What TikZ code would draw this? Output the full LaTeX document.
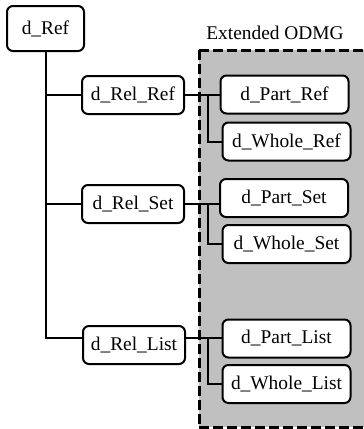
\documentclass[tikz,border=0pt]{standalone}
\usepackage{fontspec}
\setmainfont{Liberation Serif}
\usepackage{xcolor}
\definecolor{extgray}{RGB}{192,192,192}

\begin{document}
\begin{tikzpicture}[x=0.5pt,y=-0.5pt,
  box/.style={draw,line width=1pt,rounded corners=3pt,fill=white,inner sep=0pt,
    font=\fontsize{9.7}{11.6}\selectfont},
  relbox/.style={box,minimum width=51pt,minimum height=19pt},
  pwbox/.style={box,minimum width=64pt,minimum height=19pt},
  link/.style={line width=1pt},
  odmgline/.style={line width=1.5pt,dash pattern=on 5pt off 2pt}]
  \useasboundingbox (0,0) rectangle (364,429);
  % extended ODMG area
  \fill[extgray] (199,50) rectangle (370,427);
  \draw[odmgline] (199,50) -- (370,50);
  \draw[odmgline] (199,427) -- (370,427);
  \draw[odmgline] (199,50) -- (199,427);
  \node[font=\fontsize{9.7}{11.6}\selectfont] (ext) at (275,33) {Extended ODMG};
  % nodes
  \node[box,minimum width=38.5pt,minimum height=22.5pt] (Ref) at (45.5,28.5) {d\_Ref};
  \node[relbox] (RelRef) at (133,95) {d\_Rel\_Ref};
  \node[relbox] (RelSet) at (133,204) {d\_Rel\_Set};
  \node[relbox] (RelList) at (134,345) {d\_Rel\_List};
  \node[pwbox] (PartRef) at (284.5,94.5) {d\_Part\_Ref};
  \node[pwbox] (WholeRef) at (286.5,141.5) {d\_Whole\_Ref};
  \node[pwbox] (PartSet) at (284,198) {d\_Part\_Set};
  \node[pwbox] (WholeSet) at (286.5,244) {d\_Whole\_Set};
  \node[pwbox] (PartList) at (286.5,338.5) {d\_Part\_List};
  \node[pwbox] (WholeList) at (286.5,384) {d\_Whole\_List};
  % connectors
  \draw[link] (Ref.south) |- ([yshift=3.5pt]RelList.west);
  \draw[link] (Ref.south |- RelRef.west) -- (RelRef.west);
  \draw[link] (Ref.south |- RelSet.west) -- (RelSet.west);
  \draw[link] (RelRef.east) -- (RelRef.east -| PartRef.west);
  \draw[link] (RelSet.east) -- (RelSet.east -| PartSet.west);
  \draw[link] ([yshift=3.5pt]RelList.east) -- ([yshift=3.5pt]RelList.east -| PartList.west);
  \draw[link] (RelRef.east -| 208,0) |- (WholeRef.west);
  \draw[link] (RelSet.east -| 208,0) |- (WholeSet.west);
  \draw[link] ([yshift=3.5pt]RelList.east -| 208,0) |- (WholeList.west);
\end{tikzpicture}
\end{document}
